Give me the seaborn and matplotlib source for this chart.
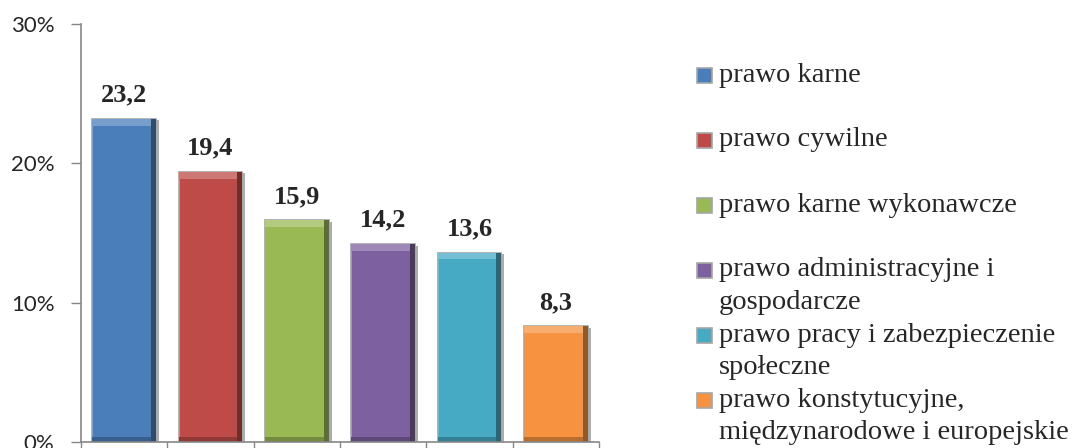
import matplotlib
matplotlib.use("Agg")
import matplotlib.pyplot as plt
import matplotlib.colors as mcolors
import matplotlib.patheffects as pe
from matplotlib.patches import Rectangle
import seaborn as sns
import pandas as pd
import numpy as np

# dziedziny prawa i udział (%)
categories = [
    "prawo karne",
    "prawo cywilne",
    "prawo karne wykonawcze",
    "prawo administracyjne i\ngospodarcze",
    "prawo pracy i zabezpieczenie\nspołeczne",
    "prawo konstytucyjne,\nmiędzynarodowe i europejskie",
]
values = [23.2, 19.4, 15.9, 14.2, 13.6, 8.3]
colors = ["#4A7EBB", "#BE4B48", "#98B954", "#7D60A0", "#46AAC5", "#F69240"]
y_ticks = [0, 10, 20, 30]

df = pd.DataFrame({"kategoria": categories, "wartosc": values})


def shade(c, f):
    rgb = np.array(mcolors.to_rgb(c))
    if f < 1:
        return tuple(rgb * f)
    return tuple(rgb + (1 - rgb) * (f - 1))


sns.set_style("white")
W, H = 1083, 448
fig = plt.figure(figsize=(W / 100, H / 100), dpi=100)
ax = fig.add_axes([81 / W, 6 / H, 518 / W, 418 / H])

sns.barplot(data=df, x="kategoria", y="wartosc", hue="kategoria",
            palette=colors, saturation=1, width=0.74, legend=False, ax=ax,
            edgecolor="#A6A6A6", linewidth=1.2)

# lekki efekt fazowania krawędzi słupków
for bar, c in zip(list(ax.patches), colors):
    bar.set_path_effects([pe.SimplePatchShadow(offset=(2, -1), shadow_rgbFace="#333333", alpha=0.4),
                          pe.Normal()])
    x0, w, h = bar.get_x(), bar.get_width(), bar.get_height()
    ax.add_patch(Rectangle((x0 + w - 0.06, 0), 0.06, h, facecolor=shade(c, 0.6),
                           edgecolor="none", zorder=bar.get_zorder() + 0.1))
    ax.add_patch(Rectangle((x0, 0), w - 0.06, 0.35, facecolor=shade(c, 0.75),
                           edgecolor="none", zorder=bar.get_zorder() + 0.1))
    ax.add_patch(Rectangle((x0, h - 0.5), w - 0.06, 0.5, facecolor=shade(c, 1.25),
                           edgecolor="none", zorder=bar.get_zorder() + 0.1))

for i, v in enumerate(values):
    ax.annotate(f"{v:.1f}".replace(".", ","), (i, v), xytext=(0, 9),
                textcoords="offset points", ha="center", va="bottom",
                fontsize=19, fontweight="bold", family="Liberation Serif")

ax.set_xlim(-0.5, len(values) - 0.5)
ax.set_ylim(0, 30)
ax.set_yticks(y_ticks)
ax.set_yticklabels([f"{t}%" for t in y_ticks], fontsize=16, family="Lato")
ax.set_xticks([i - 0.5 for i in range(len(values) + 1)])
ax.set_xticklabels([])
ax.set_xlabel("")
ax.set_ylabel("")
ax.tick_params(axis="y", length=7, width=1, color="#868686", pad=12, left=True)
ax.tick_params(axis="x", length=4, width=1, color="#868686", bottom=True)
for side in ["top", "right"]:
    ax.spines[side].set_visible(False)
for side in ["left", "bottom"]:
    ax.spines[side].set_color("#868686")
    ax.spines[side].set_linewidth(1.2)
    ax.spines[side].set_zorder(5)

# legenda rysowana ręcznie, wpisy co 65 px
for i, (label, c) in enumerate(zip(categories, colors)):
    yc = 75 + 65 * i
    fig.patches.append(Rectangle((697 / W, 1 - (yc + 8) / H), 15 / W, 15 / H,
                                 transform=fig.transFigure, facecolor=c,
                                 edgecolor="#A6A6A6", linewidth=1.2))
    for k, line in enumerate(label.split("\n")):
        fig.text(719 / W, 1 - (yc + 32 * k) / H, line, fontsize=20.5,
                 family="Liberation Serif", va="center", ha="left")

fig.savefig("out.png", dpi=100)
